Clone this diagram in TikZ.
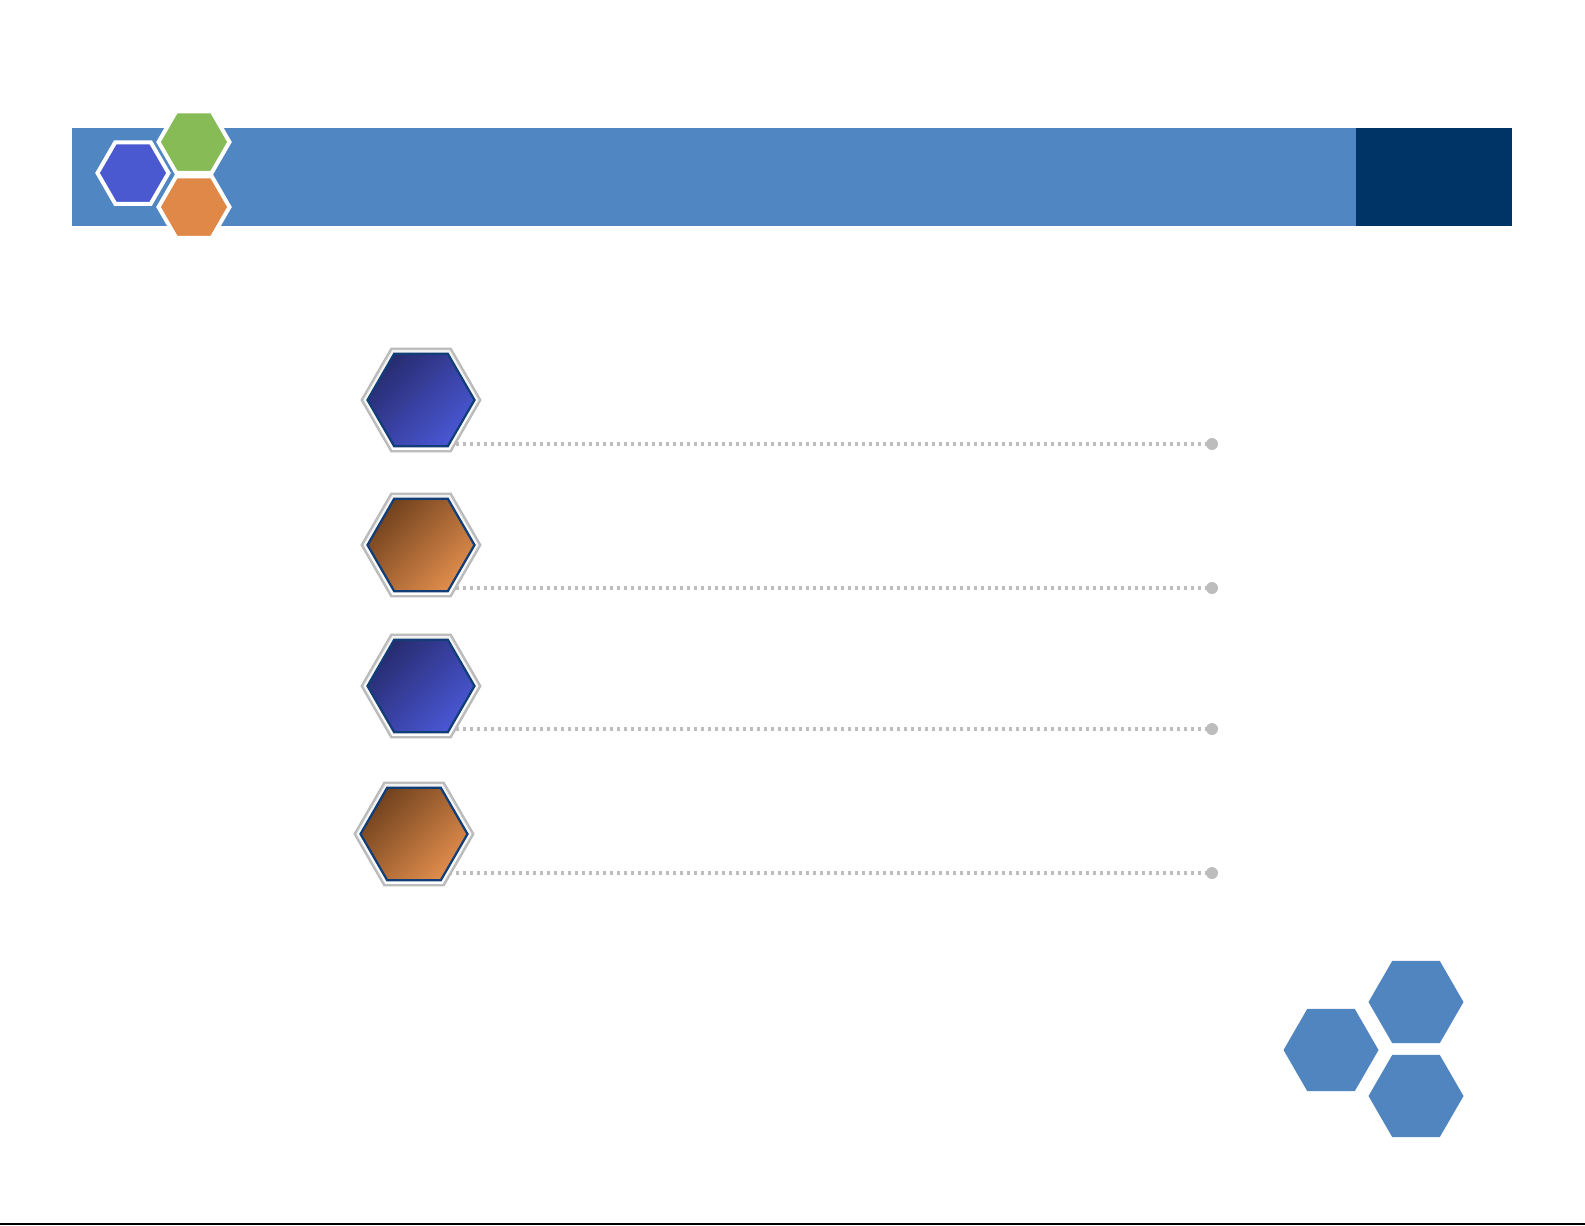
\documentclass[tikz,border=0pt]{standalone}
\usepackage{xcolor}
\usetikzlibrary{shapes.geometric, positioning, backgrounds}
\definecolor{barblue}{HTML}{5086C1}
\definecolor{barnavy}{HTML}{003366}
\definecolor{hexblue}{HTML}{4B59D1}
\definecolor{hexgreen}{HTML}{86BB55}
\definecolor{hexorange}{HTML}{E08848}
\definecolor{cornerblue}{HTML}{5085C0}
\definecolor{deepblue}{HTML}{272C70}
\definecolor{brightblue}{HTML}{4A57D4}
\definecolor{deepbrown}{HTML}{72421E}
\definecolor{lightbrown}{HTML}{E08D4C}
\definecolor{rimnavy}{HTML}{123E78}
\definecolor{trailgray}{HTML}{BDBDBD}

\begin{document}
\begin{tikzpicture}[
  x=0.02cm, y=-0.02cm,
  hexagon/.style={regular polygon, regular polygon sides=6, inner sep=0pt, outer sep=0pt},
  tophex/.style={hexagon, draw=white, line width=0.08cm, minimum size=71*0.02cm},
  cornerhex/.style={hexagon, fill=cornerblue, minimum size=95*0.02cm},
  badgerim/.style={hexagon, draw=gray!55, line width=0.02cm, fill=gray!50, minimum size=120*0.02cm},
  badgeshine/.style={hexagon, minimum size=115*0.02cm,
    top color=gray!10, middle color=gray!45, bottom color=white},
  core/.style={hexagon, draw=rimnavy, line width=0.045cm, minimum size=107*0.02cm},
  bluecore/.style={core, left color=deepblue, right color=brightblue, shading angle=45},
  browncore/.style={core, left color=deepbrown, right color=lightbrown, shading angle=45},
  trail/.style={trailgray, line width=0.065cm, dash pattern=on 0.065cm off 0.075cm},
  trailend/.style={circle, fill=trailgray, inner sep=0pt, minimum size=0.24cm}
]
\useasboundingbox (0,0) rectangle (1585,1225);

% title bar
\fill[barblue] (72,128) rectangle (1356,226);
\fill[barnavy] (1356,128) rectangle (1512,226);
\node[tophex, fill=hexblue] (tblue) at (133,173) {};
\node[tophex, fill=hexgreen] (tgreen) at (194,142) {};
\node[tophex, fill=hexorange] (torange) at (194,207) {};

% list badges
\node[badgerim] (rim1) at (421,400) {};
\node[badgeshine] (shine1) at (rim1.center) {};
\node[bluecore] (core1) at (rim1.center) {};
\node[trailend] (end1) at (1212,444) {};

\node[badgerim] (rim2) at (421,545) {};
\node[badgeshine] (shine2) at (rim2.center) {};
\node[browncore] (core2) at (rim2.center) {};
\node[trailend] (end2) at (1212,588) {};

\node[badgerim] (rim3) at (421,686) {};
\node[badgeshine] (shine3) at (rim3.center) {};
\node[bluecore] (core3) at (rim3.center) {};
\node[trailend] (end3) at (1212,729) {};

\node[badgerim] (rim4) at (414,834) {};
\node[badgeshine] (shine4) at (rim4.center) {};
\node[browncore] (core4) at (rim4.center) {};
\node[trailend] (end4) at (1212,873) {};

\begin{pgfonlayer}{background}
\draw[trail] (rim1.center |- end1) -- (end1.center);
\draw[trail] (rim2.center |- end2) -- (end2.center);
\draw[trail] (rim3.center |- end3) -- (end3.center);
\draw[trail] (rim4.center |- end4) -- (end4.center);
\end{pgfonlayer}

% corner cluster
\node[cornerhex] (cleft) at (1331,1050) {};
\node[cornerhex] (ctop) at (1416,1002) {};
\node[cornerhex] (cbottom) at (1416,1096) {};

\draw[black, line width=0.03cm] (0,1224) -- (1585,1224);
\end{tikzpicture}
\end{document}
